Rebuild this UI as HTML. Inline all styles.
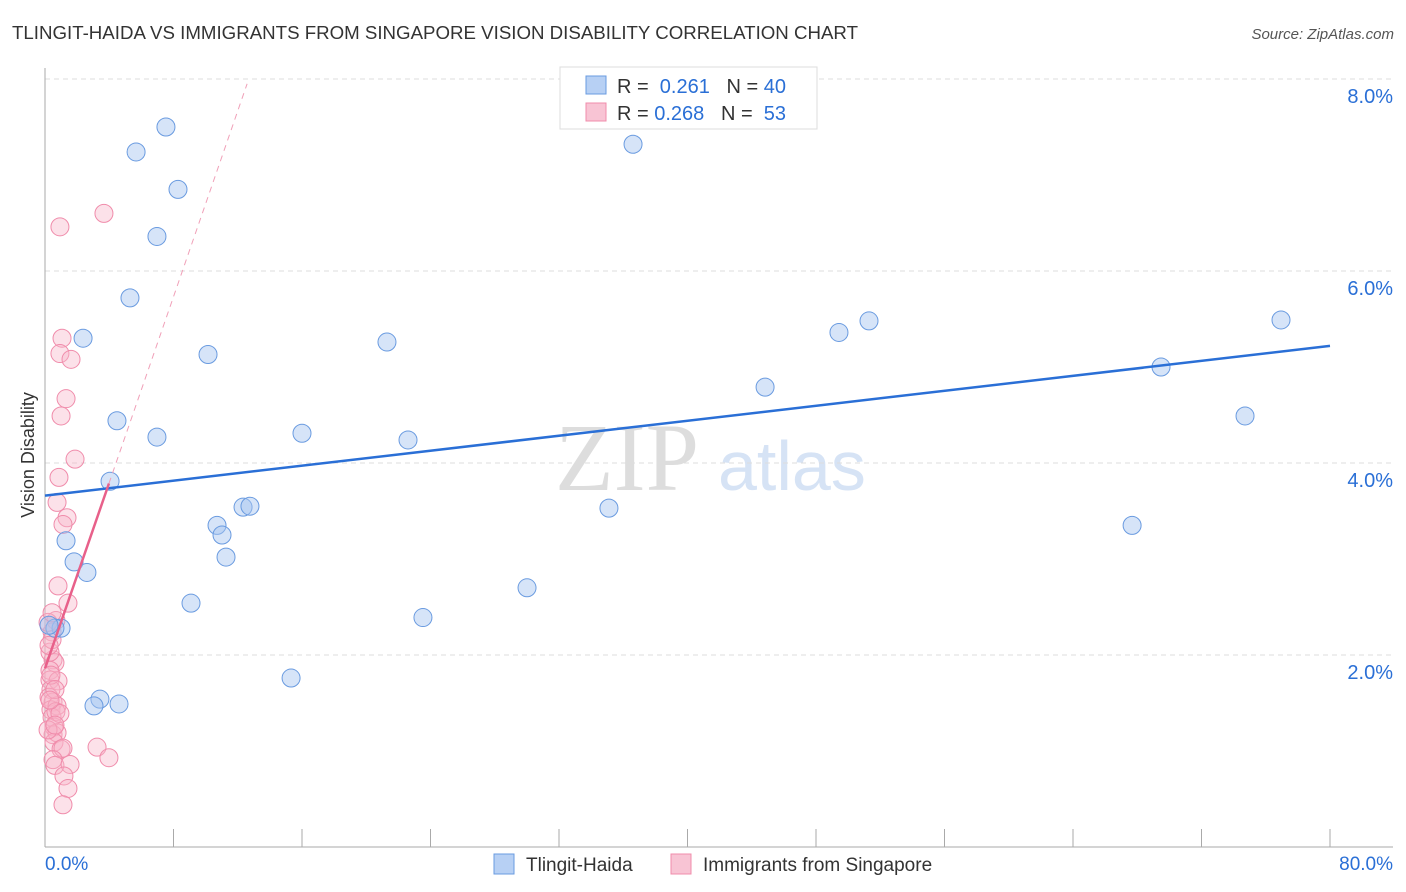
<!DOCTYPE html>
<html><head><meta charset="utf-8"><style>
body{margin:0;background:#fff;font-family:"Liberation Sans",sans-serif;}
svg{display:block}
</style></head><body>
<svg id="c" width="1406" height="892">
<text x="12" y="39" font-size="18" fill="#333" textLength="846" lengthAdjust="spacingAndGlyphs">TLINGIT-HAIDA VS IMMIGRANTS FROM SINGAPORE VISION DISABILITY CORRELATION CHART</text>
<text x="1394" y="39" font-size="15" fill="#555" font-style="italic" text-anchor="end">Source: ZipAtlas.com</text>
<text x="555" y="490" font-size="96" fill="#ddd" font-family="Liberation Serif,serif">ZIP</text>
<text x="718" y="490" font-size="70" fill="#d6e3f5">atlas</text>
<g id="grid"></g><g id="axes"></g><g id="marks"></g>
<text transform="translate(34,455) rotate(-90)" font-size="18" fill="#333" text-anchor="middle">Vision Disability</text>
<g>
<rect x="560" y="67" width="257" height="62" fill="#fff" stroke="#ddd"/>
<rect x="586" y="76" width="20" height="18" fill="#b7d0f4" stroke="#6a9be0"/>
<rect x="586" y="103" width="20" height="18" fill="#f8c4d4" stroke="#f08cab"/>
<text x="617" y="93" font-size="20" fill="#333">R = <tspan fill="#2a6fd6">&#160;0.261</tspan>&#160;&#160;&#160;N = <tspan fill="#2a6fd6">40</tspan></text>
<text x="617" y="120" font-size="20" fill="#333">R = <tspan fill="#2a6fd6">0.268</tspan>&#160;&#160;&#160;N = <tspan fill="#2a6fd6">&#160;53</tspan></text>
</g>
<g>
<rect x="494" y="854" width="20" height="20" fill="#b7d0f4" stroke="#6a9be0"/>
<text x="526" y="871" font-size="19" fill="#333">Tlingit-Haida</text>
<rect x="671" y="854" width="20" height="20" fill="#f8c4d4" stroke="#f08cab"/>
<text x="703" y="871" font-size="19" fill="#333">Immigrants from Singapore</text>
</g>
</svg>
<script>
const yTicks=[2,4,6,8];
const yTickLabels=["2.0%","4.0%","6.0%","8.0%"];
const xTicks=[0,8,16,24,32,40,48,56,64,72,80];
const blueX=[7.53,5.67,8.28,6.97,5.29,2.37,10.15,4.48,6.97,16.0,21.29,22.6,4.05,12.33,12.76,10.71,11.02,11.27,1.31,1.81,2.61,9.09,1.0,0.62,15.32,3.42,3.05,4.61,36.61,44.83,49.43,51.3,69.48,76.95,74.71,67.68,35.11,30.01,23.53,0.25];
const blueY=[7.50,7.24,6.85,6.36,5.72,5.30,5.13,4.44,4.27,4.31,5.26,4.24,3.81,3.54,3.55,3.35,3.25,3.02,3.19,2.97,2.86,2.54,2.28,2.28,1.76,1.54,1.47,1.49,7.32,4.79,5.36,5.48,5.0,5.49,4.49,3.35,3.53,2.70,2.39,2.31];
const pinkX=[3.67,0.93,1.06,0.93,1.62,1.31,1.0,1.87,0.87,0.75,1.37,1.12,0.81,1.43,0.68,0.44,0.5,0.62,0.31,0.31,0.81,0.37,0.25,0.5,0.37,0.75,0.44,0.68,0.56,0.5,0.75,0.56,1.0,1.12,3.24,3.98,0.5,0.62,1.56,1.18,1.43,1.12,0.31,0.44,0.19,0.44,0.25,0.37,0.62,0.93,0.19,0.62,0.31];
const pinkY=[6.60,6.46,5.30,5.14,5.08,4.67,4.49,4.04,3.85,3.59,3.43,3.36,2.72,2.54,2.36,2.24,1.95,1.92,1.84,1.74,1.73,1.64,1.56,1.51,1.43,1.47,1.35,1.41,1.25,1.17,1.19,1.09,1.02,1.03,1.04,0.93,0.91,0.85,0.86,0.74,0.61,0.44,2.03,2.16,2.34,2.44,2.10,1.79,1.64,1.39,1.22,1.27,1.53];
const blueFit=[3.66,0.0195];
const pinkFit=[1.86,0.484];
const X=v=>45+v*1285/80, Y=v=>847-v*96;
const NS="http://www.w3.org/2000/svg";
function mk(t,a,p){const e=document.createElementNS(NS,t);for(const k in a)e.setAttribute(k,a[k]);document.getElementById(p).appendChild(e);return e;}
yTicks.forEach((t,i)=>{
 const l=mk('line',{x1:45,x2:1393,y1:Y(t),y2:Y(t),stroke:'#ddd','stroke-dasharray':'5,4'},'grid');
 
 
 const tx=mk('text',{x:1393,y:Y(t)+24,'font-size':20,fill:'#2a6fd6','text-anchor':'end'},'axes');tx.textContent=yTickLabels[i];
 
 
});
mk('line',{x1:45,x2:45,y1:68,y2:847,stroke:'#aaa'},'axes');
mk('line',{x1:45,x2:1393,y1:847,y2:847,stroke:'#aaa'},'axes');
xTicks.forEach(t=>{const l=mk('line',{x1:X(t),x2:X(t),y1:829,y2:847,stroke:'#aaa'},'axes');
 
 });
let a=mk('text',{x:45,y:870,'font-size':19,fill:'#2a6fd6'},'axes');a.textContent='0.0%';


a=mk('text',{x:1393,y:870,'font-size':19,fill:'#2a6fd6','text-anchor':'end'},'axes');a.textContent='80.0%';


pinkX.forEach((x,i)=>{const c=mk('circle',{cx:X(x),cy:Y(pinkY[i]),r:9,fill:'rgba(248,180,200,0.4)',stroke:'#f08cab','stroke-width':1},'marks');
 
 });
blueX.forEach((x,i)=>{const c=mk('circle',{cx:X(x),cy:Y(blueY[i]),r:9,fill:'rgba(164,196,240,0.45)',stroke:'#6a9be0','stroke-width':1},'marks');
 
 });
let ln=mk('line',{x1:X(0),y1:Y(blueFit[0]),x2:X(80),y2:Y(blueFit[0]+blueFit[1]*80),stroke:'#2a6fd6','stroke-width':2.5},'marks');


const pm=Math.max(...pinkX);
ln=mk('line',{x1:X(0),y1:Y(pinkFit[0]),x2:X(pm),y2:Y(pinkFit[0]+pinkFit[1]*pm),stroke:'#e8608a','stroke-width':2.5},'marks');


const xe=(7.95-pinkFit[0])/pinkFit[1];
ln=mk('line',{x1:X(pm),y1:Y(pinkFit[0]+pinkFit[1]*pm),x2:X(xe),y2:Y(7.95),stroke:'#f0a0b8','stroke-width':1,'stroke-dasharray':'6,5'},'marks');


</script>
</body></html>
